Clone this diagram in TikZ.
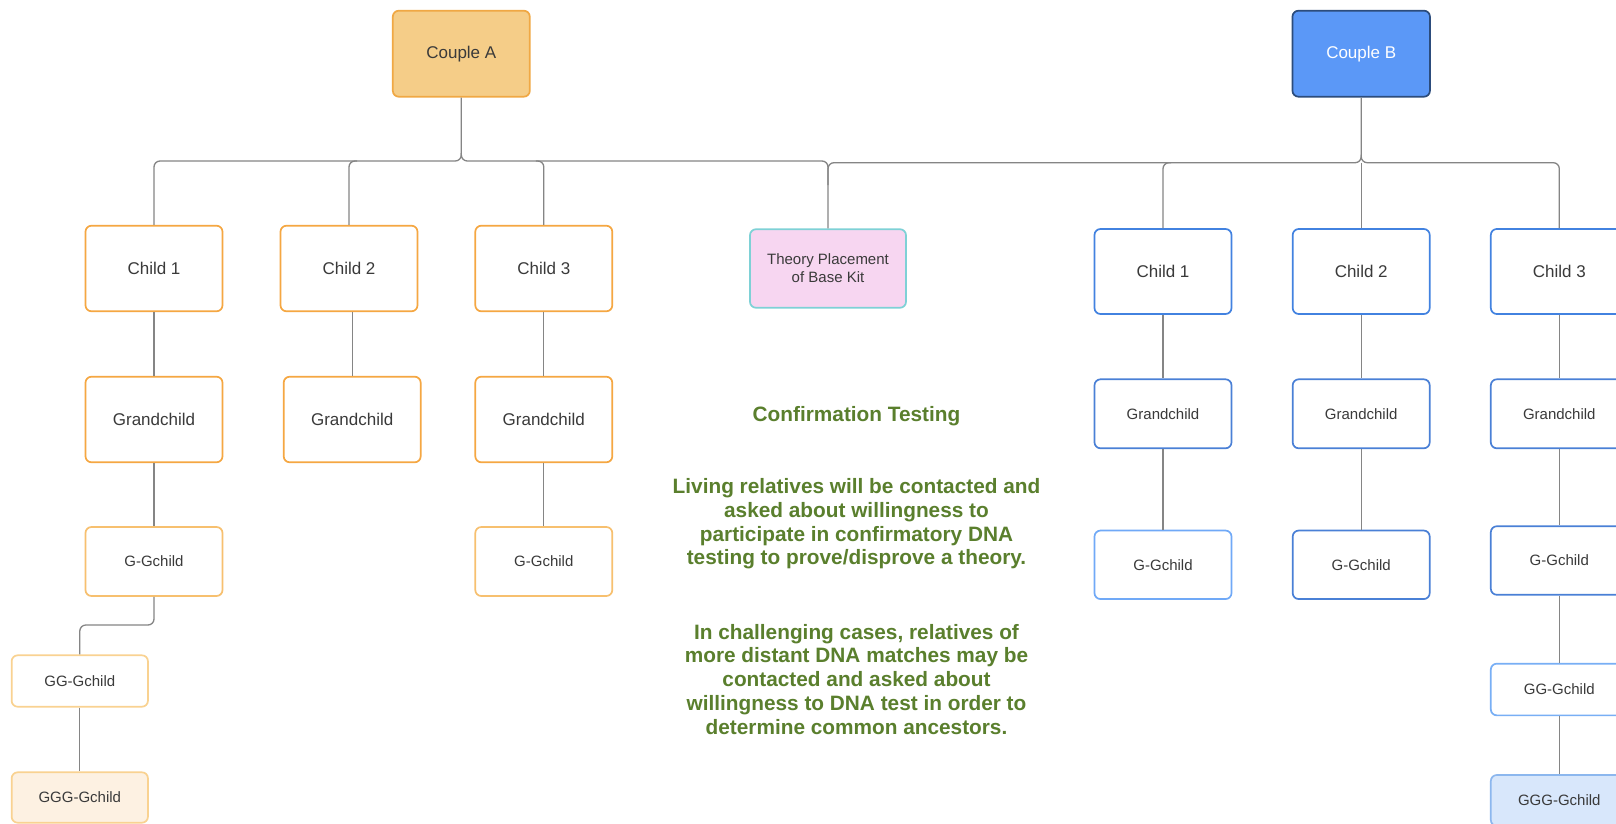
\documentclass[tikz,border=0pt]{standalone}
\usepackage{fontspec}
\setmainfont{Liberation Sans}
\definecolor{txt}{HTML}{3A3A3A}
\definecolor{conn}{HTML}{858585}
\definecolor{orA}{HTML}{F5A742}
\definecolor{orB}{HTML}{F7C06F}
\definecolor{orC}{HTML}{F9D291}
\definecolor{orFill}{HTML}{FDF1E2}
\definecolor{cAfill}{HTML}{F5CD88}
\definecolor{cAdraw}{HTML}{F0A844}
\definecolor{cBfill}{HTML}{5B98F7}
\definecolor{cBdraw}{HTML}{2C4C7C}
\definecolor{blA}{HTML}{4282E0}
\definecolor{blB}{HTML}{4A80D6}
\definecolor{blL}{HTML}{70A9F7}
\definecolor{blGG}{HTML}{78AFF5}
\definecolor{blFill}{HTML}{D8E7FB}
\definecolor{blGGG}{HTML}{8CB7EE}
\definecolor{thFill}{HTML}{F7D6F1}
\definecolor{thDraw}{HTML}{7ED1D6}
\definecolor{grn}{HTML}{5A7F2D}
\tikzset{
  box/.style={draw, rounded corners=6pt, line width=1.7pt, minimum width=137pt, text=txt, inner sep=0pt, align=center},
  big/.style={font=\fontsize{17}{20}\selectfont},
  small/.style={font=\fontsize{15}{18}\selectfont},
  link/.style={draw=conn, line width=1.3pt, rounded corners=6pt},
  note/.style={text=grn, align=center, font=\fontsize{20.8}{23.7}\selectfont\bfseries, inner sep=0pt}
}
\begin{document}
\begin{tikzpicture}[x=1pt,y=-1pt]
\useasboundingbox (0,0) rectangle (1616,824);
\clip (0,0) rectangle (1616,824);
\fill[white] (0,0) rectangle (1616,824);

% couples
\node[box, big, fill=cAfill, draw=cAdraw, minimum height=86pt] (cA) at (461.3,53.7) {Couple A};
\node[box, big, fill=cBfill, draw=cBdraw, text=white, minimum height=86pt, minimum width=137.5pt] (cB) at (1361.2,53.7) {Couple B};

% children A
\node[box, big, draw=orA, minimum height=85.6pt] (c1A) at (154,268.5) {Child 1};
\node[box, big, draw=orA, minimum height=85.6pt] (c2A) at (349,268.5) {Child 2};
\node[box, big, draw=orA, minimum height=85.6pt] (c3A) at (543.8,268.5) {Child 3};

% theory
\node[box, small, fill=thFill, draw=thDraw, minimum width=156pt, minimum height=78.5pt] (th) at (828,268.5) {Theory Placement\\of Base Kit};

% children B
\node[box, big, draw=blA, minimum height=85pt] (c1B) at (1163,271.5) {Child 1};
\node[box, big, draw=blA, minimum height=85pt] (c2B) at (1361.2,271.5) {Child 2};
\node[box, big, draw=blA, minimum height=85pt] (c3B) at (1559.3,271.5) {Child 3};

% grandchildren A
\node[box, big, draw=orA, minimum height=85.6pt] (g1A) at (154,419.5) {Grandchild};
\node[box, big, draw=orA, minimum height=85.6pt] (g2A) at (352.2,419.5) {Grandchild};
\node[box, big, draw=orA, minimum height=85.6pt] (g3A) at (543.8,419.5) {Grandchild};

% grandchildren B
\node[box, small, draw=blB, minimum height=69pt] (g1B) at (1163,413.8) {Grandchild};
\node[box, small, draw=blB, minimum height=69pt] (g2B) at (1361.2,413.8) {Grandchild};
\node[box, small, draw=blB, minimum height=69pt] (g3B) at (1559.3,413.8) {Grandchild};

% great-grandchildren A
\node[box, small, draw=orB, minimum height=69pt] (gg1A) at (154,561.5) {G-Gchild};
\node[box, small, draw=orB, minimum height=69pt] (gg3A) at (543.8,561.5) {G-Gchild};

% great-grandchildren B
\node[box, small, draw=blL, minimum height=68.5pt] (gg1B) at (1163,564.8) {G-Gchild};
\node[box, small, draw=blB, minimum height=68.5pt] (gg2B) at (1361.2,564.8) {G-Gchild};
\node[box, small, draw=blB, minimum height=68.5pt] (gg3B) at (1559.3,560.5) {G-Gchild};

% further generations
\node[box, small, draw=orC, minimum width=136.3pt, minimum height=51.4pt] (ggg1A) at (79.8,681) {GG-Gchild};
\node[box, small, draw=orC, fill=orFill, minimum width=136.3pt, minimum height=50.4pt] (gggg1A) at (79.8,797.5) {GGG-Gchild};
\node[box, small, draw=blGG, minimum height=51.7pt] (ggg3B) at (1559.3,689.5) {GG-Gchild};
\node[box, small, draw=blGGG, fill=blFill, minimum height=51pt] (gggg3B) at (1559.3,800.5) {GGG-Gchild};

% junctions
\coordinate (jA) at (461.3,161);
\coordinate (jB) at (1361.2,162.7);
\coordinate (thT) at (828,185);
\coordinate (jGG) at (79.8,625);

% connectors from Couple A
\draw[link] (cA.south) -- (jA) -| (c1A.north);
\draw[link] ([yshift=8pt]jA) -- (jA) -| (th.north);
\draw[link] ([xshift=8pt]c2A.north |- jA) -| (c2A.north);
\draw[link] ([xshift=-8pt]c3A.north |- jA) -| (c3A.north);

% connectors from Couple B
\draw[link] (cB.south) -- (jB) -| (thT);
\draw[link] ([yshift=8pt]jB) -- (jB) -| (c3B.north);
\draw[link] ([xshift=8pt]c1B.north |- jB) -| (c1B.north);
\draw[link] (jB) -- (c2B.north);

% vertical lines A
\draw[link] (c1A.south) -- (g1A.north);
\draw[link] (g2A.north) -- (g2A.north |- c2A.south);
\draw[link] (c3A.south) -- (g3A.north);
\draw[link] (g1A.south) -- (gg1A.north);
\draw[link] (g3A.south) -- (gg3A.north);
\draw[link] (gg1A.south) |- (jGG) -- (ggg1A.north);
\draw[link] (ggg1A.south) -- (gggg1A.north);

% vertical lines B
\draw[link] (c1B.south) -- (g1B.north);
\draw[link] (c2B.south) -- (g2B.north);
\draw[link] (c3B.south) -- (g3B.north);
\draw[link] (g1B.south) -- (gg1B.north);
\draw[link] (g2B.south) -- (gg2B.north);
\draw[link] (g3B.south) -- (gg3B.north);
\draw[link] (gg3B.south) -- (ggg3B.north);
\draw[link] (ggg3B.south) -- (gggg3B.north);

% notes
\node[note] (title) at (856.5,416.4) {Confirmation Testing};
\node[note] (p1) at (856.5,524) {Living relatives will be contacted and\\asked about willingness to\\participate in confirmatory DNA\\testing to prove/disprove a theory.};
\node[note] (p2) at (856.5,679.2) {In challenging cases, relatives of\\more distant DNA matches may be\\contacted and asked about\\willingness to DNA test in order to\\determine common ancestors.};
\end{tikzpicture}
\end{document}
